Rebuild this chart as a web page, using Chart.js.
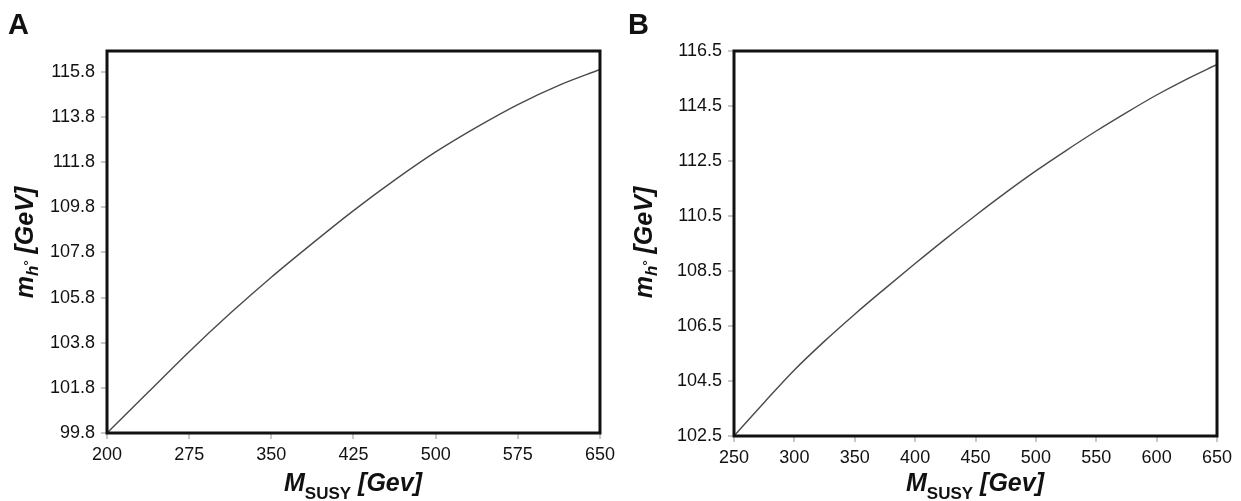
<!DOCTYPE html>
<html>
<head>
<meta charset="utf-8">
<script src="https://cdn.jsdelivr.net/npm/chart.js@4.4.0/dist/chart.umd.min.js"></script>
<style>
  body { margin:0; background:#fff; width:1241px; height:501px; overflow:hidden; position:relative;
         font-family:'Liberation Sans', Arial, sans-serif; color:#111; }
  canvas { position:absolute; top:0; }
  #cA { left:0; }
  #cB { left:620px; }
  .panel { position:absolute; top:9.5px; font-weight:bold; font-size:29px; line-height:29px; }
  .xt { position:absolute; top:469.5px; width:400px; text-align:center; white-space:nowrap;
        font:italic bold 25px/25px 'Liberation Sans', Arial, sans-serif; }
  .xt .sub { font-style:normal; font-size:17px; position:relative; top:8px; }
  .yt { position:absolute; top:229.5px; width:300px; height:25px; text-align:center; white-space:nowrap;
        font:italic bold 25px/25px 'Liberation Sans', Arial, sans-serif; transform:rotate(-90deg); }
  .yt .sub { font-size:17px; position:relative; top:5px; }
  .yt .sup { font-size:13px; position:relative; top:-5px; font-style:normal; }
</style>
</head>
<body>
<canvas id="cA" width="620" height="501"></canvas>
<canvas id="cB" width="621" height="501"></canvas>

<div class="panel" style="left:8px">A</div>
<div class="panel" style="left:628px">B</div>

<div class="xt" style="left:153px">M<span class="sub">SUSY</span> [Gev]</div>
<div class="xt" style="left:775px">M<span class="sub">SUSY</span> [Gev]</div>

<div class="yt" style="left:-126px">m<span class="sub">h<span class="sup">°</span></span> [GeV]</div>
<div class="yt" style="left:493px">m<span class="sub">h<span class="sup">°</span></span> [GeV]</div>

<script>
// ─── Data ────────────────────────────────────────────────────────────────────
const massA  = [200, 237.5, 275, 312.5, 350, 387.5, 425, 462.5, 500, 537.5, 575, 612.5, 650];
const higgsA = [99.8, 101.6, 103.4, 105.1, 106.7, 108.2, 109.65, 111.0, 112.25, 113.35, 114.35, 115.2, 115.9];

const massB  = [250, 275, 300, 325, 350, 375, 400, 425, 450, 475, 500, 525, 550, 575, 600, 625, 650];
const higgsB = [102.5, 103.72, 104.9, 105.95, 106.93, 107.86, 108.77, 109.66, 110.52, 111.35,
                112.14, 112.88, 113.59, 114.26, 114.9, 115.48, 116.01];

const xTicksA = [200, 275, 350, 425, 500, 575, 650];
const yTicksA = [99.8, 101.8, 103.8, 105.8, 107.8, 109.8, 111.8, 113.8, 115.8];
const xTicksB = [250, 300, 350, 400, 450, 500, 550, 600, 650];
const yTicksB = [102.5, 104.5, 106.5, 108.5, 110.5, 112.5, 114.5, 116.5];

// ─── Chart setup ─────────────────────────────────────────────────────────────
const FONT = "'Liberation Sans', Arial, sans-serif";

const frame = {
  id: 'frame',
  afterDraw(chart) {
    const { ctx, chartArea: a } = chart;
    ctx.save();
    ctx.strokeStyle = '#111';
    ctx.lineWidth = 3;
    ctx.strokeRect(a.left, a.top, a.right - a.left, a.bottom - a.top);
    ctx.restore();
  }
};

function tickGrid() {
  return { display:true, drawOnChartArea:false, drawTicks:true, tickLength:6, color:'#c8c8c8', lineWidth:2 };
}

function makePanel(id, xs, ys, xTicks, yTicks, xMin, xMax, yMin, yMax, yWidth, xHeight, rightPad) {
  return new Chart(document.getElementById(id), {
    type: 'line',
    data: {
      datasets: [{
        data: xs.map((x, i) => ({ x, y: ys[i] })),
        borderColor: '#4a4a4a', borderWidth: 1.4,
        pointRadius: 0, tension: 0.4, cubicInterpolationMode: 'monotone'
      }]
    },
    options: {
      responsive: false, animation: false, devicePixelRatio: 1,
      layout: { padding: { top:51, right:rightPad, left:0, bottom:0 } },
      plugins: { legend:{ display:false }, tooltip:{ enabled:false } },
      scales: {
        x: {
          type: 'linear', min: xMin, max: xMax,
          afterBuildTicks: s => { s.ticks = xTicks.map(value => ({ value })); },
          afterFit: s => { s.height = xHeight; },
          grid: tickGrid(), border: { display:false },
          ticks: { color:'#111', font:{ family:FONT, size:18 }, padding:5, autoSkip:false, maxRotation:0,
                   callback: v => String(v) }
        },
        y: {
          type: 'linear', min: yMin, max: yMax,
          afterBuildTicks: s => { s.ticks = yTicks.map(value => ({ value })); },
          afterFit: s => { s.width = yWidth; },
          grid: tickGrid(), border: { display:false },
          ticks: { color:'#111', font:{ family:FONT, size:18 }, padding:6, autoSkip:false,
                   callback: v => v.toFixed(1) }
        }
      }
    },
    plugins: [frame]
  });
}

makePanel('cA', massA, higgsA, xTicksA, yTicksA, 200, 650, 99.8, 116.72, 107, 68, 20);
makePanel('cB', massB, higgsB, xTicksB, yTicksB, 250, 650, 102.5, 116.5, 114, 65, 24);
</script>
</body>
</html>
